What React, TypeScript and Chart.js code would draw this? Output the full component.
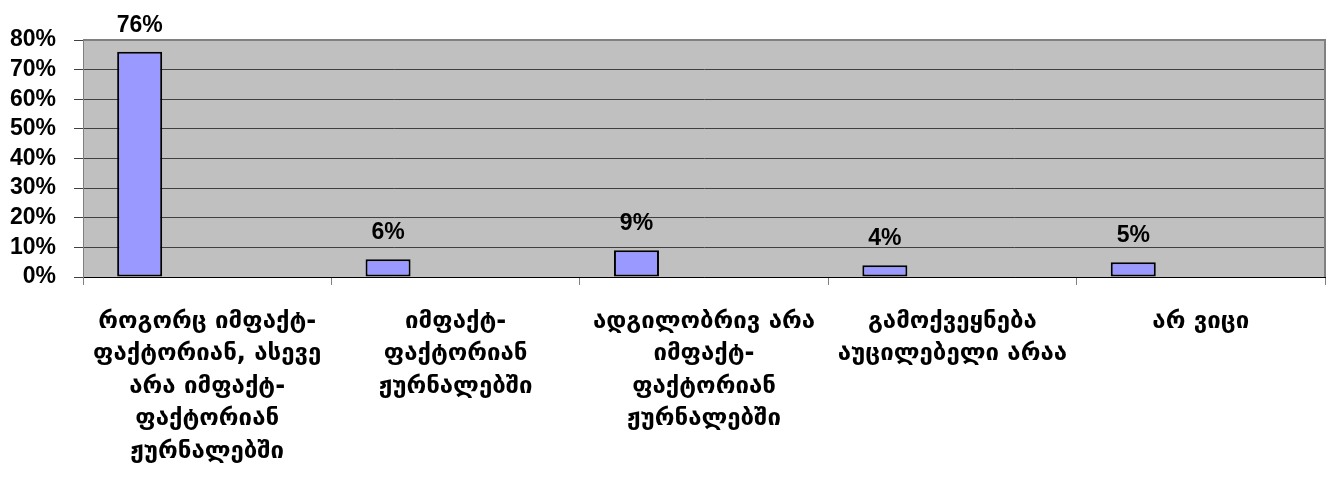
import React, { useEffect, useRef } from "react";
import { Chart, registerables } from "chart.js";

Chart.register(...registerables);

const categories: string[][] = [
  ["როგორც იმფაქტ-", "ფაქტორიან, ასევე", "არა იმფაქტ-", "ფაქტორიან", "ჟურნალებში"],
  ["იმფაქტ-", "ფაქტორიან", "ჟურნალებში"],
  ["ადგილობრივ არა", "იმფაქტ-", "ფაქტორიან", "ჟურნალებში"],
  ["გამოქვეყნება", "აუცილებელი არაა"],
  ["არ ვიცი"],
];
const values: number[] = [76, 6, 9, 4, 5];
const yTicks: number[] = [0, 10, 20, 30, 40, 50, 60, 70, 80];

const NUM_FONT = "'Liberation Sans', Arial, sans-serif";
const GEO_FONT = "'DejaVu Sans', sans-serif";

const plotBg = {
  id: "plotBg",
  beforeDraw(chart: any) {
    const { ctx, chartArea: a } = chart;
    ctx.save();
    ctx.fillStyle = "#C0C0C0";
    ctx.fillRect(a.left, a.top, a.right - a.left, a.bottom - a.top);
    ctx.restore();
  },
  afterDatasetsDraw(chart: any) {
    const { ctx, chartArea: a } = chart;
    ctx.save();
    ctx.strokeStyle = "#808080";
    ctx.lineWidth = 2;
    ctx.beginPath();
    ctx.moveTo(a.left, a.top);
    ctx.lineTo(a.right, a.top);
    ctx.lineTo(a.right, a.bottom);
    ctx.stroke();
    ctx.restore();
  },
};

const dataLabels = {
  id: "dataLabels",
  afterDatasetsDraw(chart: any) {
    const { ctx } = chart;
    const meta = chart.getDatasetMeta(0);
    ctx.save();
    ctx.fillStyle = "#000";
    ctx.font = `bold 23px ${NUM_FONT}`;
    ctx.textAlign = "center";
    ctx.textBaseline = "alphabetic";
    meta.data.forEach((bar: any, i: number) => {
      ctx.fillText(values[i] + "%", bar.x, bar.y - 20);
    });
    ctx.restore();
  },
};

export default function App() {
  const ref = useRef<HTMLCanvasElement | null>(null);
  useEffect(() => {
    if (!ref.current) return;
    const chart = new Chart(ref.current, {
      type: "bar",
      data: {
        labels: categories,
        datasets: [
          {
            data: values,
            backgroundColor: "#9999FF",
            borderColor: "#000000",
            borderWidth: 2,
            borderSkipped: false,
          },
          { data: [] },
          { data: [] },
          { data: [] },
        ],
      },
      options: {
        animation: false,
        responsive: true,
        maintainAspectRatio: false,
        datasets: { bar: { categoryPercentage: 0.725, barPercentage: 1 } },
        layout: { padding: { top: 40, right: 5, left: 0, bottom: 0 } },
        plugins: { legend: { display: false }, tooltip: { enabled: false } },
        scales: {
          x: {
            grid: {
              offset: true,
              drawOnChartArea: false,
              color: "#808080",
              tickLength: 8,
            },
            border: { color: "#000000", width: 1 },
            ticks: {
              color: "#000",
              maxRotation: 0,
              autoSkip: false,
              padding: 20,
              font: { family: GEO_FONT, size: 24, weight: "bold", lineHeight: 1.36 },
            },
            afterFit(scale: any) {
              scale.height = 202;
            },
          },
          y: {
            min: 0,
            max: 80,
            afterBuildTicks(scale: any) {
              scale.ticks = yTicks.map((v) => ({ value: v }));
            },
            grid: { color: "#404040", tickLength: 9, lineWidth: 1 },
            border: { color: "#808080", width: 1 },
            ticks: {
              color: "#000",
              padding: 18,
              autoSkip: false,
              font: { family: NUM_FONT, size: 23, weight: "bold" },
              callback: (v: any) => v + "%",
            },
            afterFit(scale: any) {
              scale.width = 83;
            },
          },
        },
      },
      plugins: [plotBg, dataLabels],
    });
    return () => chart.destroy();
  }, []);
  return (
    <div style={{ position: "fixed", left: 0, top: 0, width: 1330, height: 479 }}>
      <canvas ref={ref} />
    </div>
  );
}
